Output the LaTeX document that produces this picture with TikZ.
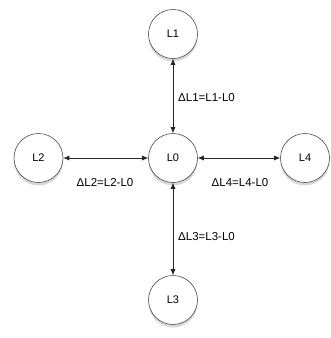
\documentclass[tikz,border=0pt]{standalone}
\usepackage{fontspec}
\setmainfont{Liberation Sans}
\usetikzlibrary{shadows,arrows.meta}
\begin{document}
\begin{tikzpicture}[x=1pt,y=-1pt,
  lnode/.style={circle,draw=black!70,line width=0.6pt,fill=white,minimum size=49pt,inner sep=0pt,font=\fontsize{11}{13}\selectfont,
    drop shadow={opacity=0.3,shadow xshift=0pt,shadow yshift=-3pt}},
  link/.style={{Latex[length=6pt,width=5pt]}-{Latex[length=6pt,width=5pt]},line width=0.7pt,black!85},
  lbl/.style={font=\fontsize{11.5}{13}\selectfont,inner sep=0pt}]
\useasboundingbox (0,0) rectangle (331,338);
\fill[white] (0,0) rectangle (331,338);
\node[lnode] (L1) at (173,34) {L1};
\node[lnode] (L0) at (173,158) {L0};
\node[lnode] (L2) at (38.5,158) {L2};
\node[lnode] (L4) at (305,158) {L4};
\node[lnode] (L3) at (173,300) {L3};
\draw[link] (L1) -- (L0);
\draw[link] (L2) -- (L0);
\draw[link] (L0) -- (L4);
\draw[link] (L0) -- (L3);
\node[lbl,anchor=west] (d1) at (178,98) {ΔL1=L1-L0};
\node[lbl] (d2) at (105,183) {ΔL2=L2-L0};
\node[lbl] (d4) at (240,183) {ΔL4=L4-L0};
\node[lbl,anchor=west] (d3) at (178,237) {ΔL3=L3-L0};
\end{tikzpicture}
\end{document}
